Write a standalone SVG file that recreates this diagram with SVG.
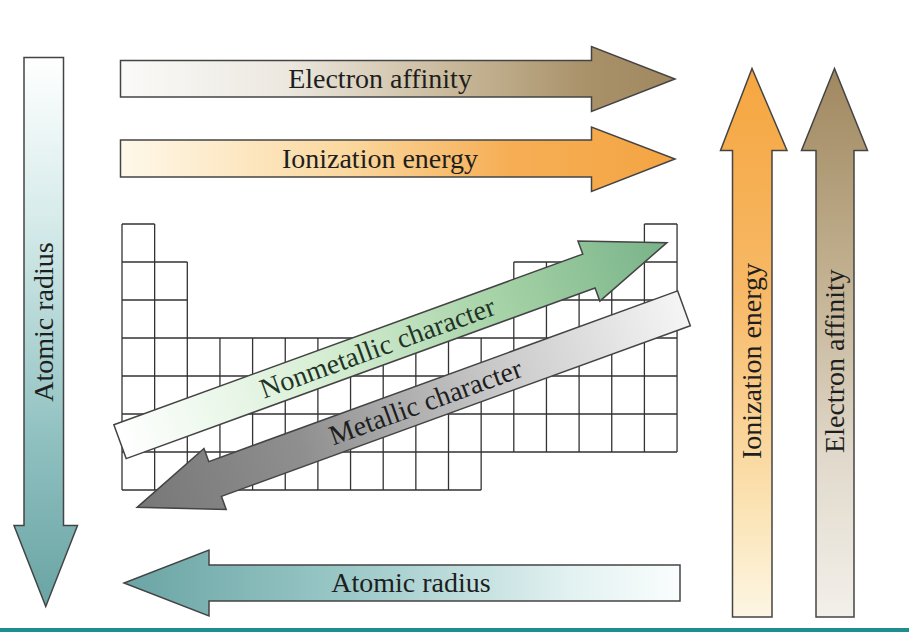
<svg xmlns="http://www.w3.org/2000/svg" width="909" height="632" viewBox="0 0 909 632">
  <defs>
    <linearGradient id="gEAh" x1="0" y1="0" x2="1" y2="0">
      <stop offset="0" stop-color="#fafaf8"/>
      <stop offset="0.3" stop-color="#ece8e0"/>
      <stop offset="0.6" stop-color="#c8b899"/>
      <stop offset="0.85" stop-color="#a89068"/>
      <stop offset="1" stop-color="#a08860"/>
    </linearGradient>
    <linearGradient id="gIEh" x1="0" y1="0" x2="1" y2="0">
      <stop offset="0" stop-color="#fef8ea"/>
      <stop offset="0.4" stop-color="#fbd9a0"/>
      <stop offset="0.7" stop-color="#f6ae55"/>
      <stop offset="1" stop-color="#f4a543"/>
    </linearGradient>
    <linearGradient id="gARv" x1="0" y1="0" x2="0" y2="1">
      <stop offset="0" stop-color="#ffffff"/>
      <stop offset="0.3" stop-color="#d5ebea"/>
      <stop offset="0.7" stop-color="#8fc0c0"/>
      <stop offset="1" stop-color="#6aa4a4"/>
    </linearGradient>
    <linearGradient id="gARh" x1="0" y1="0" x2="1" y2="0">
      <stop offset="0" stop-color="#6aa4a4"/>
      <stop offset="0.4" stop-color="#9ac8c7"/>
      <stop offset="0.8" stop-color="#e2f1f1"/>
      <stop offset="1" stop-color="#fafdfd"/>
    </linearGradient>
    <linearGradient id="gIEv" x1="0" y1="0" x2="0" y2="1">
      <stop offset="0" stop-color="#f5a640"/>
      <stop offset="0.4" stop-color="#f7b865"/>
      <stop offset="0.8" stop-color="#fbe3b4"/>
      <stop offset="1" stop-color="#fdf6e4"/>
    </linearGradient>
    <linearGradient id="gEAv" x1="0" y1="0" x2="0" y2="1">
      <stop offset="0" stop-color="#a08860"/>
      <stop offset="0.35" stop-color="#bfad8c"/>
      <stop offset="0.7" stop-color="#e0d8ca"/>
      <stop offset="1" stop-color="#f3f0ea"/>
    </linearGradient>
    <linearGradient id="gNM" x1="0" y1="0" x2="1" y2="0">
      <stop offset="0" stop-color="#ffffff"/>
      <stop offset="0.35" stop-color="#d9f0d7"/>
      <stop offset="0.7" stop-color="#a5d2a6"/>
      <stop offset="1" stop-color="#79b389"/>
    </linearGradient>
    <linearGradient id="gM" x1="0" y1="0" x2="1" y2="0">
      <stop offset="0" stop-color="#777777"/>
      <stop offset="0.3" stop-color="#8f8f8f"/>
      <stop offset="0.65" stop-color="#c8c8c8"/>
      <stop offset="1" stop-color="#f5f5f5"/>
    </linearGradient>
  </defs>
  <style>
    .arrow { stroke: #444444; stroke-width: 1.5; stroke-linejoin: miter; }
    .grid { fill: none; stroke: #333333; stroke-width: 1.3; }
    .lbl { font-family: "Liberation Serif", "Times New Roman", serif; font-size: 28px; fill: #1e1e1e; text-anchor: middle; }
    .lbl-green { fill: #1f3327; }
  </style>
  <rect x="0" y="0" width="909" height="632" fill="#ffffff"/>

  <g id="periodic-table">
    <path class="grid" d="M122 224H154.65M644.4 224H677.05M122 262H187.3M513.8 262H677.05M122 300H187.3M513.8 300H677.05M122 338H677.05M122 376H677.05M122 414H677.05M122 452H677.05M122 490H481.15M122 224V490M154.65 224V490M187.3 262V490M219.95 338V490M252.6 338V490M285.25 338V490M317.9 338V490M350.55 338V490M383.2 338V490M415.85 338V490M448.5 338V490M481.15 338V490M513.8 262V452M546.45 262V452M579.1 262V452M611.75 262V452M644.4 224V452M677.05 224V452"/>
  </g>

  <g id="connectors">
    <g id="electron-affinity-h">
      <polygon class="arrow" fill="url(#gEAh)" points="120.5,60.5 591.5,60.5 591.5,46.5 675,79 591.5,111.5 591.5,97 120.5,97"/>
      <text class="lbl" x="380" y="88">Electron affinity</text>
    </g>
    <g id="ionization-energy-h">
      <polygon class="arrow" fill="url(#gIEh)" points="120.5,140 591.5,140 591.5,127 675,159 591.5,191.5 591.5,177 120.5,177"/>
      <text class="lbl" x="380" y="168">Ionization energy</text>
    </g>
    <g id="atomic-radius-v">
      <polygon class="arrow" fill="url(#gARv)" points="24,57.5 63.5,57.5 63.5,525.5 77.5,525.5 45.75,606.5 14,525.5 24,525.5"/>
      <text class="lbl" transform="translate(52.5,322) rotate(-90)">Atomic radius</text>
    </g>
    <g id="atomic-radius-h">
      <polygon class="arrow" fill="url(#gARh)" points="680,565 680,601 209,601 209,616 124,583 209,550 209,565"/>
      <text class="lbl" x="411" y="592">Atomic radius</text>
    </g>
    <g id="ionization-energy-v">
      <polygon class="arrow" fill="url(#gIEv)" points="732.5,617 732.5,150.5 720.5,150.5 752,68.5 787,150.5 772,150.5 772,617"/>
      <text class="lbl" transform="translate(761,361) rotate(-90)">Ionization energy</text>
    </g>
    <g id="electron-affinity-v">
      <polygon class="arrow" fill="url(#gEAv)" points="816,617 816,150.5 801.5,150.5 834.5,68.5 867.5,150.5 854,150.5 854,617"/>
      <text class="lbl" transform="translate(844,361) rotate(-90)">Electron affinity</text>
    </g>
    <g id="nonmetallic-character" transform="translate(120,441.7) rotate(-20)">
      <polygon class="arrow" fill="url(#gNM)" points="0,-18 499,-18 499,-32 582,0 499,32 499,18 0,18"/>
      <text class="lbl lbl-green" x="274" y="9">Nonmetallic character</text>
    </g>
    <g id="metallic-character" transform="translate(684,308.3) rotate(-20)">
      <polygon class="arrow" fill="url(#gM)" points="0,-18.5 -499,-18.5 -499,-32.5 -582,0 -499,32.5 -499,18.5 0,18.5"/>
      <text class="lbl" x="-275" y="9">Metallic character</text>
    </g>
  </g>

  <rect id="bottom-bar" x="0" y="628" width="909" height="4" fill="#1f8c8e"/>
</svg>
